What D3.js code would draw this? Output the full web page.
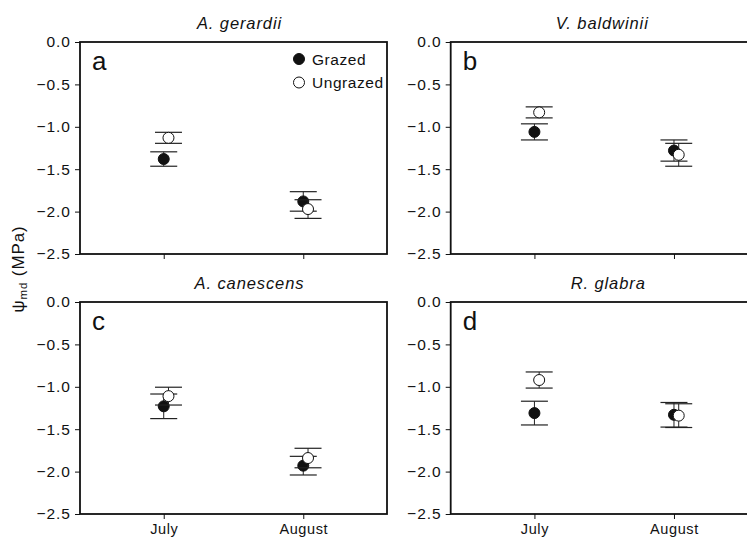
<!DOCTYPE html>
<html>
<head>
<meta charset="utf-8">
<script src="https://cdn.jsdelivr.net/npm/d3@7"></script>
<style>
  html, body { margin: 0; padding: 0; background: #fff; }
  svg { display: block; font-family: "Liberation Sans", Arial, Helvetica, sans-serif; }
</style>
</head>
<body>
<svg id="chart" width="747" height="540"></svg>
<script>
// ---- Data ----
const months = ["July", "August"];
const species = ["A. gerardii", "V. baldwinii", "A. canescens", "R. glabra"];
const panelLetters = ["a", "b", "c", "d"];
const yTicks = [0.0, -0.5, -1.0, -1.5, -2.0, -2.5];
const treatments = ["Grazed", "Ungrazed"];

// mean water potential (MPa) per species, [July, August]
const grazedMean = [
  [-1.38, -1.88],
  [-1.06, -1.28],
  [-1.23, -1.93],
  [-1.31, -1.33]
];
const grazedSE = [
  [0.085, 0.115],
  [0.095, 0.125],
  [0.145, 0.11],
  [0.14, 0.145]
];
const ungrazedMean = [
  [-1.13, -1.97],
  [-0.83, -1.33],
  [-1.11, -1.84],
  [-0.92, -1.34]
];
const ungrazedSE = [
  [0.065, 0.11],
  [0.065, 0.135],
  [0.105, 0.115],
  [0.095, 0.14]
];

// ---- Layout ----
const svg = d3.select("#chart");
const pw = 307, ph = 212;
const panelX = [80, 450.7, 80, 450.7];
const panelY = [42, 42, 302, 302];
const titleDx = [6, -2, 16, 4];
const jitter = [0, 0.034];

const x = d3.scaleLinear().domain([0.4, 2.6]).range([0, pw]);
const y = d3.scaleLinear().domain([0, -2.5]).range([0, ph]);
const fmt = v => (v === 0 ? "0.0" : d3.format(".1f")(v).replace("-", "\u2212"));

species.forEach((sp, i) => {
  const g = svg.append("g").attr("transform", `translate(${panelX[i]},${panelY[i]})`);
  const bottomRow = i >= 2;

  // frame
  g.append("rect").attr("x", 0).attr("y", 0).attr("width", pw).attr("height", ph)
    .attr("fill", "none").attr("stroke", "#111").attr("stroke-width", 1.8);

  // y axis
  const yAxis = d3.axisLeft(y).tickValues(yTicks).tickFormat(fmt).tickSize(5).tickPadding(4);
  const ya = g.append("g").call(yAxis);
  ya.select(".domain").remove();
  ya.selectAll("line").attr("stroke", "#111");
  ya.selectAll("text").attr("font-size", 15.5).attr("fill", "#111")
    .attr("letter-spacing", 1)
    .attr("font-family", "'Liberation Sans', Arial, sans-serif");

  // x axis
  const xAxis = d3.axisBottom(x).tickValues([1, 2])
    .tickFormat(d => bottomRow ? months[d - 1] : "").tickSize(5).tickPadding(5);
  const xa = g.append("g").attr("transform", `translate(0,${ph})`).call(xAxis);
  xa.select(".domain").remove();
  xa.selectAll("line").attr("stroke", "#111");
  xa.selectAll("text").attr("font-size", 14.5).attr("fill", "#111")
    .attr("letter-spacing", 0.6)
    .attr("font-family", "'Liberation Sans', Arial, sans-serif");

  // title
  svg.append("text")
    .attr("x", panelX[i] + pw / 2 + titleDx[i]).attr("y", panelY[i] - 13)
    .attr("text-anchor", "middle").attr("font-size", 16.5).attr("font-style", "italic")
    .attr("letter-spacing", 0.9)
    .attr("fill", "#111").text(sp);

  // panel letter
  g.append("text").attr("x", 12).attr("y", 28)
    .attr("font-size", 26).attr("fill", "#111").text(panelLetters[i]);

  // data
  const series = [
    { name: "Grazed", mean: grazedMean[i], se: grazedSE[i], fill: "#111", j: jitter[0] },
    { name: "Ungrazed", mean: ungrazedMean[i], se: ungrazedSE[i], fill: "#fff", j: jitter[1] }
  ];
  series.forEach(s => {
    const pts = months.map((m, k) => ({ xv: k + 1 + s.j, m: s.mean[k], e: s.se[k] }));
    const eb = g.append("g");
    pts.forEach(p => {
      const cx = x(p.xv);
      eb.append("line").attr("x1", cx).attr("x2", cx)
        .attr("y1", y(p.m + p.e)).attr("y2", y(p.m - p.e))
        .attr("stroke", "#222").attr("stroke-width", 1);
      [p.m + p.e, p.m - p.e].forEach(v => {
        eb.append("line").attr("x1", cx - 13.5).attr("x2", cx + 13.5)
          .attr("y1", y(v)).attr("y2", y(v))
          .attr("stroke", "#222").attr("stroke-width", 1.2);
      });
    });
    g.selectAll(null).data(pts).enter().append("circle")
      .attr("cx", p => x(p.xv)).attr("cy", p => y(p.m)).attr("r", 5.5)
      .attr("fill", s.fill).attr("stroke", "#111").attr("stroke-width", 1);
  });
});

// legend (panel a)
const lg = svg.append("g").attr("transform", `translate(${panelX[0]},${panelY[0]})`);
treatments.forEach((t, k) => {
  const cy = 17 + k * 23.5;
  lg.append("circle").attr("cx", 219).attr("cy", cy).attr("r", 5.5)
    .attr("fill", k === 0 ? "#111" : "#fff").attr("stroke", "#111").attr("stroke-width", 1);
  lg.append("text").attr("x", 232).attr("y", cy + 5.5).attr("font-size", 15.5)
    .attr("letter-spacing", 0.55)
    .attr("fill", "#111").text(t);
});

// y-axis title
const yt = svg.append("text")
  .attr("transform", "translate(24,269) rotate(-90)")
  .attr("text-anchor", "middle").attr("font-size", 17).attr("fill", "#111")
  .attr("letter-spacing", 0.9);
yt.append("tspan").text("\u03C8");
yt.append("tspan").attr("font-size", 11.5).attr("dy", 3).text("md");
yt.append("tspan").attr("dy", -3).text(" (MPa)");
</script>
</body>
</html>
